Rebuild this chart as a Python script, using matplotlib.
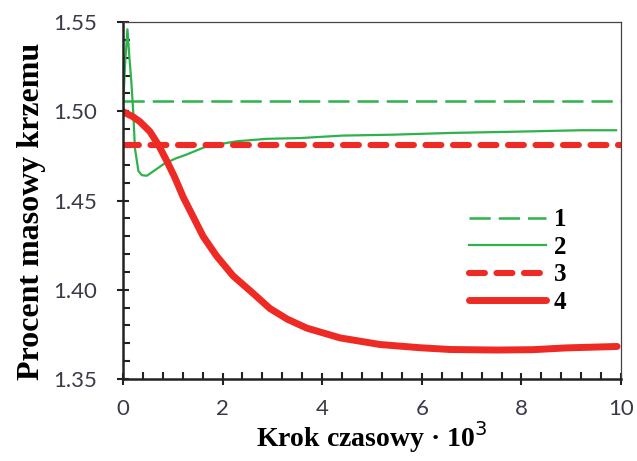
import matplotlib.pyplot as plt
from matplotlib.ticker import MultipleLocator

# dane
krok_1 = [0, 10]
linia_1 = [1.506, 1.506]

krok_2 = [0.0, 0.04, 0.09, 0.13, 0.17, 0.21, 0.24, 0.31, 0.38, 0.48, 0.6, 0.81, 1.05, 1.28, 1.68,
          2.28, 2.89, 3.55, 4.4, 5.4, 6.6, 7.9, 9.2, 9.9]
linia_2 = [1.50, 1.525, 1.546, 1.53, 1.516, 1.498, 1.4795, 1.4666, 1.4642, 1.4639, 1.4662, 1.4703,
           1.4735, 1.4758, 1.4804, 1.4832, 1.4846, 1.485, 1.4864, 1.4869, 1.4879, 1.4886, 1.4894, 1.4894]

krok_3 = [0, 10]
linia_3 = [1.481, 1.481]

krok_4 = [0.0, 0.07, 0.2, 0.34, 0.54, 0.71, 0.88, 1.04, 1.21, 1.41, 1.61, 1.88, 2.21, 2.62, 2.95,
          3.3, 3.69, 4.36, 5.16, 5.96, 6.57, 7.5, 8.23, 8.9, 9.92]
linia_4 = [1.4999, 1.4988, 1.497, 1.4942, 1.4887, 1.4813, 1.4722, 1.463, 1.4519, 1.4409, 1.4299,
           1.4189, 1.4078, 1.3978, 1.3895, 1.3835, 1.3785, 1.373, 1.3693, 1.3675, 1.3665, 1.3662,
           1.3664, 1.3674, 1.3682]

zielony = '#2db34a'
czerwony = '#ee2a24'
szary = '#3a3a48'

fig = plt.figure(figsize=(6.37, 4.61), dpi=100)
ax = fig.add_axes([0.193, 0.178, 0.782, 0.774])

ax.plot(krok_1, linia_1, color=zielony, lw=1.8, dashes=(8.5, 3.2), label='1')
ax.plot(krok_2, linia_2, color=zielony, lw=1.6, label='2')
ax.plot(krok_3, linia_3, color=czerwony, lw=4.4, dashes=(2.6, 1.9), dash_capstyle='round', label='3')
ax.plot(krok_4, linia_4, color=czerwony, lw=5.0, solid_capstyle='round', label='4')

ax.set_xlim(0, 10)
ax.set_ylim(1.35, 1.55)
ax.xaxis.set_major_locator(MultipleLocator(2))
ax.xaxis.set_minor_locator(MultipleLocator(0.4))
ax.yaxis.set_major_locator(MultipleLocator(0.05))
ax.yaxis.set_minor_locator(MultipleLocator(0.01))
ax.yaxis.set_major_formatter(lambda v, p: '%.2f' % v)
ax.xaxis.set_major_formatter(lambda v, p: '%d' % round(v))

ax.tick_params(which='major', direction='inout', length=9, width=1.5, color='#222222',
               labelsize=16, labelcolor=szary)
ax.tick_params(axis='y', which='major', pad=14)
ax.tick_params(axis='x', which='major', pad=10)
ax.tick_params(which='minor', direction='in', length=5, width=1.5, color='#222222')
for lab in ax.get_xticklabels() + ax.get_yticklabels():
    lab.set_family('Lato')

for s in ['left', 'bottom']:
    ax.spines[s].set_linewidth(1.8)
    ax.spines[s].set_color('#222222')
for s in ['top', 'right']:
    ax.spines[s].set_linewidth(0.9)
    ax.spines[s].set_color('#444444')

ax.set_xlabel('Krok czasowy · 10$^3$', family='Liberation Serif', fontweight='bold', fontsize=20, labelpad=0)
ax.set_ylabel('Procent masowy krzemu', family='Liberation Serif', fontweight='bold', fontsize=23)
ax.yaxis.set_label_coords(-0.155, 0.47)

leg = ax.legend(loc='center right', bbox_to_anchor=(0.935, 0.33), frameon=False, handlelength=3.1,
                labelspacing=0.18, handletextpad=0.3,
                prop={'family': 'Liberation Serif', 'weight': 'bold', 'size': 18})

fig.savefig('out.png', dpi=100)
